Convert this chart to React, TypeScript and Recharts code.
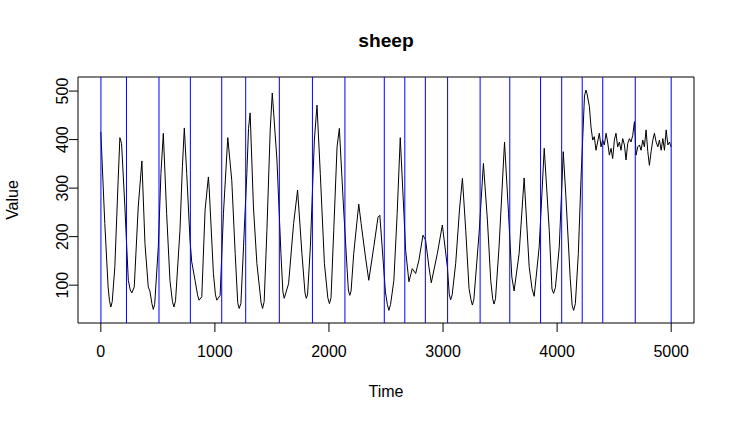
import React from 'react';
import { LineChart, Line, XAxis, YAxis, ReferenceLine, ReferenceArea } from 'recharts';

const FONT = '"Liberation Sans", Arial, Helvetica, sans-serif';

// [time, value]: the oscillating part
const CYCLE_SERIES: [number, number][] = [
    [0, 416], [35, 227], [64, 96], [76, 68], [88, 55], [100, 66], [123, 138], [152, 316], [167, 404], [182, 392],
    [211, 261], [241, 110], [258, 90], [272, 84], [293, 96], [328, 261], [360, 356], [387, 186], [416, 96], [430, 88],
    [448, 62], [460, 50], [472, 60], [504, 179], [527, 330], [548, 413], [577, 248], [606, 110], [628, 66], [641, 55],
    [655, 68], [694, 213], [715, 344], [732, 424], [753, 330], [782, 193], [797, 148], [826, 110], [848, 80], [861, 69],
    [885, 76], [914, 255], [943, 323], [950, 300], [987, 124], [1005, 80], [1017, 69], [1046, 79], [1075, 248], [1113, 404],
    [1148, 316], [1178, 165], [1200, 64], [1213, 52], [1228, 62], [1251, 179], [1280, 330], [1295, 423], [1309, 455], [1338, 261],
    [1368, 145], [1405, 64], [1418, 52], [1432, 66], [1456, 213], [1485, 420], [1503, 496], [1544, 358], [1579, 165], [1596, 86],
    [1608, 73], [1646, 103], [1690, 227], [1725, 296], [1763, 165], [1790, 84], [1801, 73], [1812, 80], [1837, 179], [1872, 399],
    [1895, 471], [1924, 330], [1960, 145], [1990, 74], [2004, 62], [2018, 74], [2042, 213], [2071, 385], [2091, 423], [2129, 255],
    [2159, 134], [2170, 90], [2182, 79], [2194, 88], [2217, 165], [2261, 267], [2282, 227], [2320, 158], [2349, 110], [2393, 179],
    [2430, 240], [2446, 244], [2495, 86], [2512, 60], [2525, 48], [2540, 60], [2569, 110], [2598, 248], [2625, 404], [2657, 248],
    [2672, 172], [2701, 107], [2730, 134], [2760, 124], [2789, 152], [2824, 203], [2847, 193], [2876, 138], [2897, 105], [2950, 165],
    [2994, 224], [3038, 138], [3055, 80], [3067, 70], [3080, 80], [3111, 145], [3146, 261], [3170, 320], [3199, 213], [3228, 93],
    [3245, 70], [3257, 59], [3270, 70], [3316, 207], [3354, 351], [3389, 234], [3418, 110], [3435, 72], [3447, 61], [3460, 72],
    [3491, 179], [3539, 395], [3574, 248], [3603, 117], [3623, 88], [3667, 165], [3711, 321], [3755, 138], [3780, 93], [3799, 77],
    [3843, 179], [3887, 382], [3931, 213], [3955, 92], [3969, 83], [3985, 95], [4019, 179], [4054, 375], [4077, 282], [4115, 114],
    [4132, 58], [4145, 48], [4160, 62], [4186, 165], [4209, 316], [4240, 490], [4253, 502], [4262, 495], [4283, 468], [4297, 426],
    [4312, 399],
];

// the noisy plateau after the last jump
const PLATEAU_SERIES: [number, number][] = [
    [4326, 406], [4341, 378], [4355, 395], [4370, 413], [4385, 385], [4399, 399], [4414, 389], [4429, 413], [4443, 395], [4458, 368],
    [4473, 382], [4487, 361], [4502, 399], [4516, 413], [4531, 385], [4546, 395], [4560, 378], [4575, 402], [4590, 389], [4604, 358],
    [4619, 392], [4634, 402], [4648, 395], [4663, 409], [4678, 437], [4692, 368], [4707, 385], [4722, 389], [4736, 378], [4751, 399],
    [4765, 385], [4780, 420], [4795, 375], [4809, 347], [4824, 375], [4839, 399], [4853, 413], [4868, 395], [4883, 385], [4897, 399],
    [4912, 378], [4927, 402], [4941, 378], [4956, 420], [4971, 389], [4985, 395], [5000, 385],
];

const CHANGEPOINTS = [1, 225, 510, 785, 1060, 1270, 1565, 1855, 2140, 2485, 2665, 2845, 3040, 3325, 3585, 3855, 4040, 4220, 4400, 4685, 5000];
const X_TICKS = [0, 1000, 2000, 3000, 4000, 5000];
const Y_TICKS = [100, 200, 300, 400, 500];

const data = [...CYCLE_SERIES, ...PLATEAU_SERIES].map(([t, v]) => ({ time: t, value: v }));

// y labels run bottom-to-top like base R graphics
const YTick = (props: any) => {
    const { y, payload } = props;
    return (
        <text transform={`translate(68,${y}) rotate(-90)`} textAnchor="middle" fontSize={16} fontFamily={FONT} fill="#000">
            {payload.value}
        </text>
    );
};

export default function App() {
    return (
        <div style={{ position: 'absolute', left: 0, top: 0, width: 734, height: 421, background: '#fff' }}>
            <LineChart width={734} height={421} data={data} margin={{ top: 77, right: 40, bottom: 0, left: 0 }}>
                <XAxis
                    dataKey="time"
                    type="number"
                    domain={[-200, 5200]}
                    ticks={X_TICKS}
                    allowDataOverflow
                    height={98}
                    axisLine={false}
                    tickLine={{ stroke: '#000' }}
                    tickSize={9}
                    tickMargin={14}
                    tick={{ fill: '#000', fontSize: 16, fontFamily: FONT }}
                />
                <YAxis
                    type="number"
                    domain={[22, 529]}
                    ticks={Y_TICKS}
                    allowDataOverflow
                    width={78}
                    axisLine={false}
                    tickLine={{ stroke: '#000' }}
                    tickSize={9}
                    tick={<YTick />}
                />
                <Line dataKey="value" stroke="#000" strokeWidth={1} dot={false} type="linear" isAnimationActive={false} />
                {CHANGEPOINTS.map((cp) => (
                    <ReferenceLine key={cp} x={cp} stroke="#0000ff" strokeWidth={1} />
                ))}
                <ReferenceArea x1={-200} x2={5200} y1={22} y2={529} fill="none" fillOpacity={0} stroke="#000" strokeWidth={1} />
            </LineChart>
            <svg width={734} height={421} style={{ position: 'absolute', left: 0, top: 0, pointerEvents: 'none' }}>
                <text x={386} y={47} textAnchor="middle" fontSize={19.2} fontWeight="bold" fontFamily={FONT} fill="#000">sheep</text>
                <text x={386} y={397} textAnchor="middle" fontSize={16} fontFamily={FONT} fill="#000">Time</text>
                <text transform="translate(18,200) rotate(-90)" textAnchor="middle" fontSize={16} fontFamily={FONT} fill="#000">Value</text>
            </svg>
        </div>
    );
}
